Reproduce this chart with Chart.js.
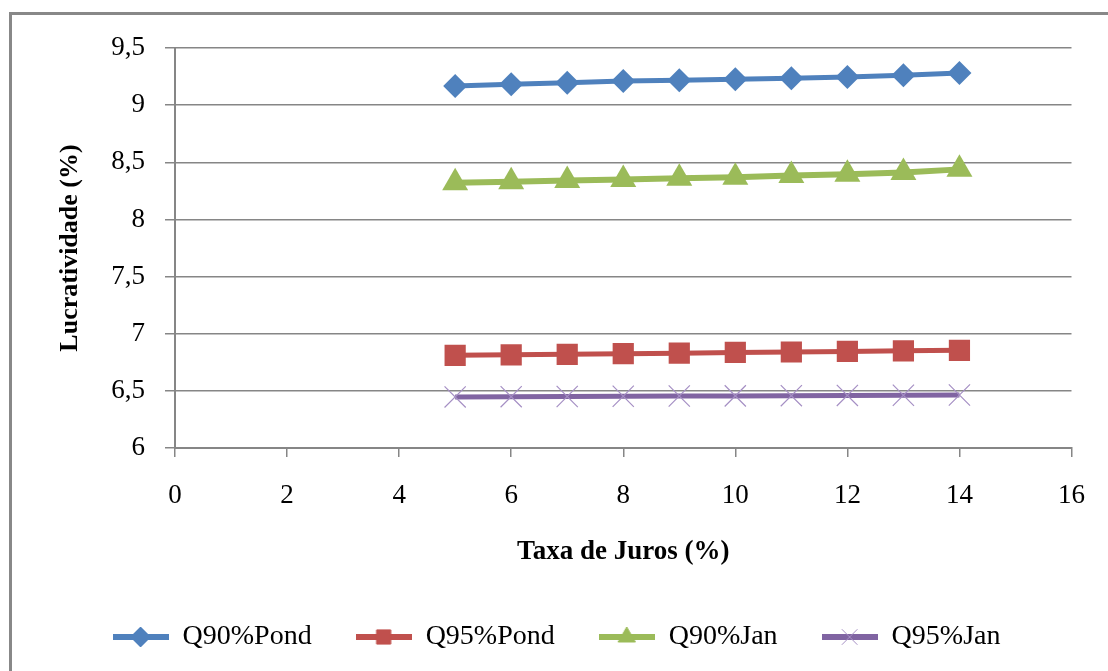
<!DOCTYPE html>
<html>
<head>
<meta charset="utf-8">
<script src="https://cdn.jsdelivr.net/npm/chart.js@4/dist/chart.umd.min.js"></script>
<style>
  html, body { margin: 0; padding: 0; background: #fff; }
  #wrap { width: 1108px; height: 671px; position: relative; }
</style>
</head>
<body>
<div id="wrap"><canvas id="c" width="1108" height="671"></canvas></div>
<script>
const taxaJuros = [5, 6, 7, 8, 9, 10, 11, 12, 13, 14];
const q90Pond = [9.168, 9.182, 9.196, 9.211, 9.217, 9.226, 9.235, 9.246, 9.261, 9.281];
const q95Pond = [6.811, 6.815, 6.820, 6.825, 6.830, 6.836, 6.840, 6.845, 6.850, 6.855];
const q90Jan = [8.322, 8.330, 8.340, 8.350, 8.360, 8.370, 8.385, 8.395, 8.410, 8.438];
const q95Jan = [6.447, 6.449, 6.451, 6.453, 6.455, 6.456, 6.458, 6.460, 6.462, 6.464];
const seriesNames = ['Q90%Pond', 'Q95%Pond', 'Q90%Jan', 'Q95%Jan'];
const xTicks = [0, 2, 4, 6, 8, 10, 12, 14, 16];
const yTicks = [6, 6.5, 7, 7.5, 8, 8.5, 9, 9.5];
const xTitle = 'Taxa de Juros (%)';
const yTitle = 'Lucratividade (%)';

const styles = [
  { color: '#4F81BD', point: 'rectRot', radius: 12, width: 5 },
  { color: '#C0504D', point: 'rect', radius: 15, width: 5 },
  { color: '#9BBB59', point: 'triangle', radius: 15, width: 6 },
  { color: '#8064A2', point: 'crossRot', radius: 15, width: 5 }
];
const seriesValues = [q90Pond, q95Pond, q90Jan, q95Jan];

function pts(vals) { return taxaJuros.map((x, i) => ({ x: x, y: vals[i] })); }

const datasets = seriesValues.map((vals, i) => {
  const s = styles[i];
  const isCross = s.point === 'crossRot';
  return {
    label: seriesNames[i],
    data: pts(vals),
    borderColor: s.color,
    backgroundColor: s.color,
    borderWidth: s.width,
    pointStyle: s.point,
    pointRadius: s.radius,
    pointHoverRadius: s.radius,
    pointBackgroundColor: s.color,
    pointBorderColor: isCross ? '#A58FC4' : s.color,
    pointBorderWidth: isCross ? 1.2 : 0,
    tension: 0,
    fill: false
  };
});

function legendIcon(i) {
  const s = styles[i];
  const cv = document.createElement('canvas');
  cv.width = 56; cv.height = 26;
  const ctx = cv.getContext('2d');
  ctx.strokeStyle = s.color; ctx.lineWidth = 6;
  ctx.beginPath(); ctx.moveTo(0, 13); ctx.lineTo(56, 13); ctx.stroke();
  ctx.fillStyle = s.color;
  ctx.strokeStyle = s.point === 'crossRot' ? '#A58FC4' : s.color;
  ctx.lineWidth = 1;
  Chart.helpers.drawPoint(ctx, { pointStyle: s.point, rotation: 0, radius: s.point === 'crossRot' ? 11 : 10, borderWidth: 1 }, 28, 13);
  return cv;
}

const borderPlugin = {
  id: 'outerBorder',
  beforeDraw(chart) {
    const ctx = chart.ctx;
    ctx.save();
    ctx.fillStyle = '#fff';
    ctx.fillRect(0, 0, chart.width, chart.height);
    ctx.strokeStyle = '#888888';
    ctx.lineWidth = 3;
    ctx.strokeRect(10.5, 13.5, chart.width + 20, chart.height + 20);
    ctx.restore();
  }
};

const serif = '"Liberation Serif", "Times New Roman", serif';

new Chart(document.getElementById('c'), {
  type: 'line',
  data: { datasets: datasets },
  plugins: [borderPlugin],
  options: {
    responsive: false,
    animation: false,
    events: [],
    layout: { padding: { left: 40, right: 35, top: 48, bottom: 10 } },
    plugins: {
      tooltip: { enabled: false },
      legend: {
        position: 'bottom',
        labels: {
          usePointStyle: true,
          pointStyleWidth: 56,
          boxHeight: 26,
          padding: 44,
          color: '#000',
          font: { family: serif, size: 28 },
          generateLabels(chart) {
            return chart.data.datasets.map((d, i) => ({
              text: d.label,
              pointStyle: legendIcon(i),
              fillStyle: d.borderColor,
              strokeStyle: d.borderColor,
              lineWidth: 0,
              hidden: false,
              datasetIndex: i,
              fontColor: '#000'
            }));
          }
        }
      }
    },
    scales: {
      x: {
        type: 'linear',
        min: 0, max: 16,
        afterBuildTicks(scale) { scale.ticks = xTicks.map(v => ({ value: v })); },
        grid: { drawOnChartArea: false, color: '#868686', lineWidth: 1.5, tickLength: 9 },
        border: { color: '#868686', width: 2 },
        ticks: {
          color: '#000', padding: 23,
          font: { family: serif, size: 27 },
          maxRotation: 0
        },
        title: {
          display: true, text: xTitle, color: '#000', padding: { top: 10, bottom: 11 },
          font: { family: serif, size: 27, weight: 'bold' }
        },
        afterFit(scale) { scale.height = 131; }
      },
      y: {
        type: 'linear',
        min: 6, max: 9.5,
        afterBuildTicks(scale) { scale.ticks = yTicks.map(v => ({ value: v })); },
        grid: { color: '#868686', lineWidth: 1.5, tickLength: 10 },
        border: { color: '#868686', width: 2 },
        ticks: {
          color: '#000', padding: 20,
          font: { family: serif, size: 27 },
          callback(v) { return String(v).replace('.', ','); }
        },
        title: {
          display: true, text: yTitle, color: '#000', padding: { top: 15, bottom: 0 },
          font: { family: serif, size: 26, weight: 'bold' }
        },
        afterFit(scale) { scale.width = 135; }
      }
    }
  }
});
</script>
</body>
</html>
